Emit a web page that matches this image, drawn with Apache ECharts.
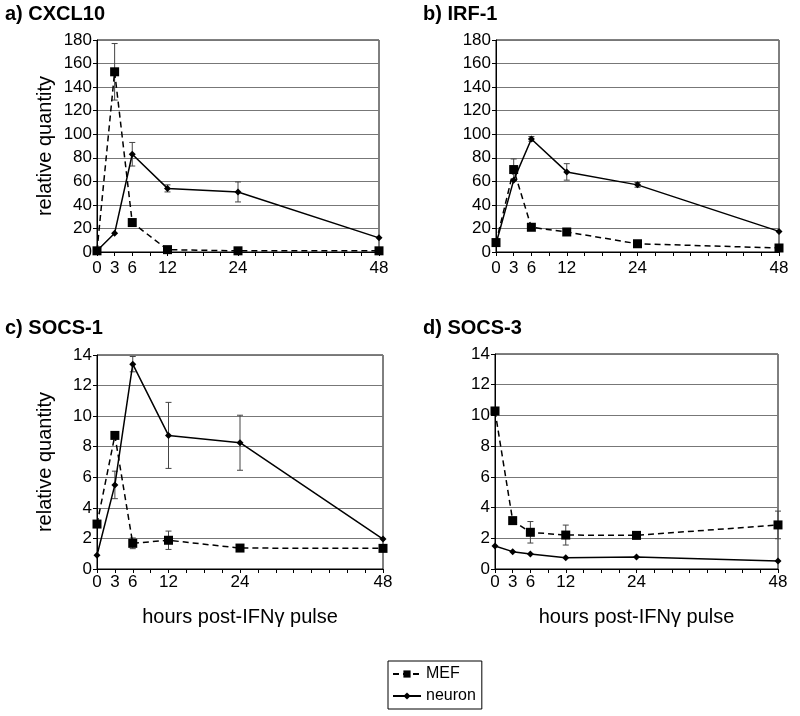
<!DOCTYPE html>
<html>
<head>
<meta charset="utf-8">
<script src="https://cdn.jsdelivr.net/npm/echarts@6/dist/echarts.min.js"></script>
<style>
  html, body { margin: 0; padding: 0; background: #fff; }
  #container { width: 800px; height: 716px; }
</style>
</head>
<body>
<div id="container"></div>
<script>
const hours = [0, 3, 6, 12, 24, 48]
const hourLabels = [0, 3, 6, 12, 24, 48]

// a) CXCL10
const cxcl10Mef = [1, 153, 25, 2, 1, 1]
const cxcl10MefErr = [0, 24, 0, 0, 0, 0]
const cxcl10Neuron = [1, 16, 83, 54, 51, 12]
const cxcl10NeuronErr = [0, 0, 10, 3, 8.5, 0]

// b) IRF-1
const irfMef = [8, 70, 21, 17, 7, 3.4]
const irfMefErr = [0, 9, 0, 0, 0, 0]
const irfNeuron = [7, 61, 96, 68, 57, 17.5]
const irfNeuronErr = [0, 0, 2, 7, 2, 0]

// c) SOCS-1
const socs1Mef = [2.94, 8.74, 1.68, 1.88, 1.37, 1.35]
const socs1MefErr = [0, 0.2, 0.35, 0.6, 0, 0]
const socs1Neuron = [0.9, 5.5, 13.4, 8.74, 8.26, 1.96]
const socs1NeuronErr = [0, 0.9, 0.5, 2.16, 1.8, 0]

// d) SOCS-3
const socs3Mef = [10.29, 3.15, 2.39, 2.21, 2.19, 2.87]
const socs3MefErr = [0.2, 0, 0.7, 0.65, 0, 0.9]
const socs3Neuron = [1.5, 1.13, 0.98, 0.74, 0.78, 0.52]
const socs3NeuronErr = [0, 0, 0, 0, 0, 0]

const font = "'Liberation Sans', Arial, sans-serif"

const panels = [
    { title: 'a) CXCL10', tx: 5, ty: 4, grid: { left: 97, top: 40, width: 282, height: 212 }, max: 180, step: 20, yName: 'relative quantity', xName: '', labelGap: 8, mef: cxcl10Mef, mefErr: cxcl10MefErr, neuron: cxcl10Neuron, neuronErr: cxcl10NeuronErr },
    { title: 'b) IRF-1', tx: 423, ty: 4, grid: { left: 496, top: 40, width: 283, height: 212 }, max: 180, step: 20, yName: '', xName: '', labelGap: 8, mef: irfMef, mefErr: irfMefErr, neuron: irfNeuron, neuronErr: irfNeuronErr },
    { title: 'c) SOCS-1', tx: 5, ty: 318, grid: { left: 97, top: 355, width: 286, height: 214 }, max: 14, step: 2, yName: 'relative quantity', xName: 'hours post-IFNγ pulse', labelGap: 5, mef: socs1Mef, mefErr: socs1MefErr, neuron: socs1Neuron, neuronErr: socs1NeuronErr },
    { title: 'd) SOCS-3', tx: 423, ty: 318, grid: { left: 495, top: 354, width: 283, height: 215 }, max: 14, step: 2, yName: '', xName: 'hours post-IFNγ pulse', labelGap: 5, mef: socs3Mef, mefErr: socs3MefErr, neuron: socs3Neuron, neuronErr: socs3NeuronErr }
]

function pairs(vals) {
    return hours.map((h, i) => [h, vals[i]])
}

function errData(vals, errs) {
    return hours.map((h, i) => [h, vals[i], errs[i]])
}

function renderErr(params, api) {
    const x = api.value(0)
    const y = api.value(1)
    const e = api.value(2)
    if (!e) return null
    const hi = api.coord([x, y + e])
    const lo = api.coord([x, y - e])
    const style = { stroke: '#444', lineWidth: 1 }
    return {
        type: 'group',
        children: [
            { type: 'line', shape: { x1: hi[0], y1: hi[1], x2: lo[0], y2: lo[1] }, style },
            { type: 'line', shape: { x1: hi[0] - 3, y1: hi[1], x2: hi[0] + 3, y2: hi[1] }, style },
            { type: 'line', shape: { x1: lo[0] - 3, y1: lo[1], x2: lo[0] + 3, y2: lo[1] }, style }
        ]
    }
}

const grids = []
const xAxes = []
const yAxes = []
const series = []
const titles = []

panels.forEach((p, k) => {
    titles.push({
        text: p.title,
        left: p.tx,
        top: p.ty,
        padding: 0,
        textStyle: { fontFamily: font, fontSize: 20, fontWeight: 'bold', color: '#000' }
    })
    grids.push(Object.assign({ show: true, borderColor: '#000', borderWidth: 1, backgroundColor: '#fff' }, p.grid))
    xAxes.push({
        gridIndex: k,
        type: 'value',
        min: 0,
        max: 48,
        interval: 3,
        name: p.xName,
        nameLocation: 'middle',
        nameGap: 38,
        nameTextStyle: { fontFamily: font, fontSize: 20, color: '#000' },
        axisLine: { lineStyle: { color: '#000', width: 1 } },
        axisTick: { show: true, inside: false, length: 4, lineStyle: { color: '#000' } },
        axisLabel: {
            fontFamily: font,
            fontSize: 17,
            color: '#000',
            margin: p.labelGap,
            formatter: v => (hourLabels.indexOf(v) >= 0 ? String(v) : '')
        },
        splitLine: { show: false }
    })
    yAxes.push({
        gridIndex: k,
        type: 'value',
        min: 0,
        max: p.max,
        interval: p.step,
        name: p.yName,
        nameLocation: 'middle',
        nameGap: 42,
        nameTextStyle: { fontFamily: font, fontSize: 20, color: '#000' },
        axisLine: { show: true, lineStyle: { color: '#000', width: 1 } },
        axisTick: { show: true, inside: false, length: 4, lineStyle: { color: '#000' } },
        axisLabel: { fontFamily: font, fontSize: 17, color: '#000', margin: 5 },
        splitLine: { show: true, lineStyle: { color: '#777', width: 1 } }
    })
    series.push({
        name: 'MEF',
        type: 'line',
        xAxisIndex: k,
        yAxisIndex: k,
        data: pairs(p.mef),
        symbol: 'rect',
        symbolSize: 9,
        itemStyle: { color: '#000' },
        lineStyle: { color: '#000', width: 1.5, type: [6, 4] },
        z: 3
    })
    series.push({
        name: 'neuron',
        type: 'line',
        xAxisIndex: k,
        yAxisIndex: k,
        data: pairs(p.neuron),
        symbol: 'diamond',
        symbolSize: 7,
        itemStyle: { color: '#000' },
        lineStyle: { color: '#000', width: 1.5 },
        z: 3
    })
    series.push({
        type: 'custom',
        xAxisIndex: k,
        yAxisIndex: k,
        data: errData(p.mef, p.mefErr),
        renderItem: renderErr,
        z: 2
    })
    series.push({
        type: 'custom',
        xAxisIndex: k,
        yAxisIndex: k,
        data: errData(p.neuron, p.neuronErr),
        renderItem: renderErr,
        z: 2
    })
})

const myChart = echarts.init(document.getElementById('container'))

myChart.setOption({
    backgroundColor: '#fff',
    animation: false,
    title: titles,
    grid: grids,
    xAxis: xAxes,
    yAxis: yAxes,
    legend: {
        data: ['MEF', 'neuron'],
        orient: 'vertical',
        left: 388,
        top: 661,
        itemWidth: 28,
        itemHeight: 9,
        itemGap: 6,
        padding: [5, 6, 5, 4],
        borderColor: '#000',
        borderWidth: 1,
        textStyle: { fontFamily: font, fontSize: 16, color: '#000' }
    },
    series
})
</script>
</body>
</html>
